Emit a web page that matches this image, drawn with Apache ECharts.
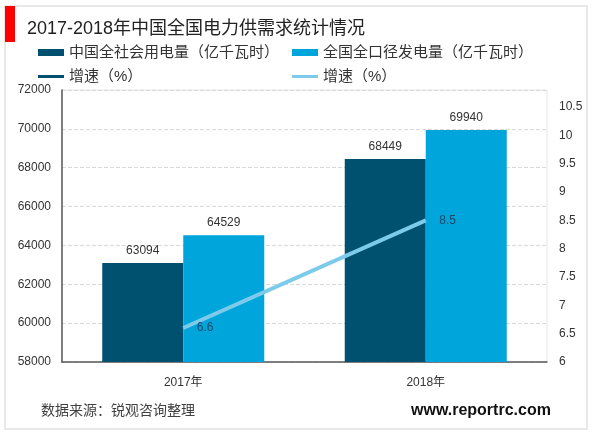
<!DOCTYPE html>
<html>
<head>
<meta charset="utf-8">
<script src="https://cdn.jsdelivr.net/npm/echarts@6/dist/echarts.min.js"></script>
<style>
  html, body { margin: 0; padding: 0; background: #fff; }
  #chart { width: 600px; height: 433px; }
</style>
</head>
<body>
<div id="chart"></div>
<script>
var font = '"Liberation Sans", "Noto Sans CJK SC", sans-serif';

var categories = ['2017年', '2018年'];
var consumption = [63094, 68449];
var generation = [64529, 69940];
var growthGeneration = [6.6, 8.5];
// 图例里有深色增速线，但图上没有画出来
var growthConsumption = [];

var nameConsumption = '中国全社会用电量（亿千瓦时）';
var nameGeneration = '全国全口径发电量（亿千瓦时）';
var nameGrowthDark = '增速（%）';
var nameGrowthLight = '增速（%） '; // 尾部空格，图例才能区分两条同名的线

function legendItem(name, left, top, height) {
  return {
    data: [name],
    left: left,
    top: top,
    padding: 0,
    icon: 'rect',
    itemWidth: 26,
    itemHeight: height,
    itemGap: 4,
    selectedMode: false,
    textStyle: { fontFamily: font, fontSize: 15, color: '#333' }
  };
}

var chart = echarts.init(document.getElementById('chart'));
chart.setOption({
  animation: false,
  backgroundColor: '#fff',
  textStyle: { fontFamily: font },
  legend: [
    legendItem(nameConsumption, 38, 45, 7),
    legendItem(nameGeneration, 292, 45, 7),
    legendItem(nameGrowthDark, 38, 69, 3),
    legendItem(nameGrowthLight, 292, 69, 3)
  ],
  grid: {
    left: 62, right: 53, top: 90, bottom: 71,
    show: true, borderColor: '#e6e6e6', borderWidth: 1
  },
  xAxis: {
    type: 'category',
    data: categories,
    axisTick: { show: false },
    axisLine: { lineStyle: { color: '#595959', width: 1.5 } },
    axisLabel: { fontSize: 12, color: '#333', margin: 15 }
  },
  yAxis: [{
    type: 'value',
    min: 58000,
    max: 72000,
    interval: 2000,
    axisLine: { show: true, lineStyle: { color: '#595959', width: 1.5 } },
    axisTick: { show: false },
    axisLabel: { fontSize: 12, color: '#333', margin: 11, formatter: function (v) { return String(v); } },
    splitLine: { lineStyle: { color: '#d9d9d9', type: 'dashed' } }
  }, {
    type: 'value',
    min: 6,
    max: 10.8,
    interval: 0.5,
    axisLine: { show: false },
    axisTick: { show: false },
    axisLabel: { fontSize: 12, color: '#333', margin: 12, showMaxLabel: false },
    splitLine: { show: false }
  }],
  series: [{
    name: nameConsumption,
    type: 'bar',
    data: consumption,
    barWidth: 81,
    barGap: 0,
    itemStyle: { color: '#00516f' },
    label: { show: true, position: 'top', distance: 6, fontSize: 12, color: '#333' }
  }, {
    name: nameGeneration,
    type: 'bar',
    data: generation,
    barWidth: 81,
    itemStyle: { color: '#00a5dc' },
    label: { show: true, position: 'top', distance: 6, fontSize: 12, color: '#333' }
  }, {
    name: nameGrowthDark,
    type: 'line',
    yAxisIndex: 1,
    data: growthConsumption,
    itemStyle: { color: '#00516f' },
    lineStyle: { color: '#00516f', width: 3 }
  }, {
    name: nameGrowthLight,
    type: 'line',
    yAxisIndex: 1,
    data: growthGeneration,
    symbol: 'circle',
    symbolSize: 1,
    itemStyle: { color: '#7ccbea' },
    lineStyle: { color: '#7ccbea', width: 4 },
    label: { show: true, position: 'right', distance: 13, fontSize: 12, color: '#1a4a66' }
  }],
  graphic: [
    { type: 'rect', silent: true, z: -1, shape: { x: 5, y: 6, width: 582, height: 423 },
      style: { fill: '#fff', stroke: '#e8e8e8', lineWidth: 2 } },
    { type: 'rect', silent: true, shape: { x: 5, y: 6, width: 10, height: 36 },
      style: { fill: '#ff0000' } },
    { type: 'text', silent: true, x: 27, y: 29,
      style: { text: '2017-2018年中国全国电力供需求统计情况', fill: '#222', font: '18px ' + font, textVerticalAlign: 'middle' } },
    { type: 'text', silent: true, x: 41, y: 411,
      style: { text: '数据来源：锐观咨询整理', fill: '#404040', font: '14px ' + font, textVerticalAlign: 'middle' } },
    { type: 'text', silent: true, x: 411, y: 411,
      style: { text: 'www.reportrc.com', fill: '#111', font: 'bold 16px ' + font, textVerticalAlign: 'middle' } }
  ]
});
</script>
</body>
</html>
